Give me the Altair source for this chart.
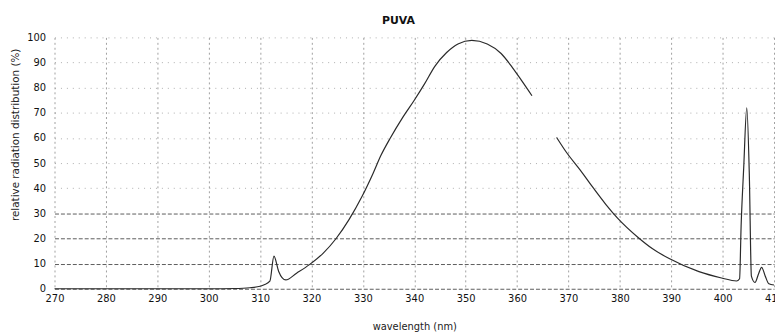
import altair as alt
import pandas as pd

# Spectrum (wavelength nm, relative %), two segments (gap in the scan)
seg1_wl = [270, 280, 290, 300, 305, 308, 310, 310.8, 311.9, 312.7, 313.6, 315, 317.1, 319.6,
           322.3, 324.8, 327.3, 329.8, 332, 333.5, 335.4, 337.7, 340, 342, 344, 346.3, 348.5,
           351.2, 354.2, 356.9, 359.1, 361, 362.9]
seg1_val = [0, 0, 0, 0, 0.1, 0.4, 1, 1.6, 3, 13, 7, 3.5, 6.2, 9.6,
            14.2, 20, 27.5, 36.6, 46, 53, 60.2, 68, 75, 81.5, 88.5, 94, 97.4,
            98.8, 97.4, 93.6, 88, 82.5, 76.8]

seg2_wl = [367.7, 369.6, 372.3, 374.8, 377.3, 379.6, 383.5, 386.3, 389.6, 395.4, 399.8, 402.7,
           403.3, 403.6, 404.1, 404.7, 405.2, 405.6, 406.3, 407, 407.6, 408.3, 409, 410]
seg2_val = [60.2, 54.3, 47.2, 40.2, 33.5, 28, 20.5, 16, 12, 6.8, 4.3, 3.1,
            4, 25, 48, 72, 45, 5, 2.5, 6, 8.5, 5, 2, 1.5]

x_ticks = list(range(270, 411, 10))
y_ticks = list(range(0, 101, 10))

df = pd.DataFrame({
    "wavelength": seg1_wl + seg2_wl,
    "value": seg1_val + seg2_val,
    "segment": ["a"] * len(seg1_wl) + ["b"] * len(seg2_wl),
})

FONT = "DejaVu Sans"

chart = alt.Chart(df).mark_line(color="#2a2a2a", strokeWidth=1.2, interpolate="monotone").encode(
    x=alt.X("wavelength:Q",
            scale=alt.Scale(domain=[270, 410], nice=False, zero=False),
            axis=alt.Axis(values=x_ticks, title="wavelength (nm)", domain=False, ticks=False,
                          tickSize=0, labelPadding=5, labelFontSize=10, labelFont=FONT,
                          labelColor="#111", labelFlush=False, labelOverlap=False,
                          titleFont=FONT, titleFontSize=10, titleFontWeight="normal",
                          titleColor="#222", titleY=33, titleBaseline="top",
                          grid=True, gridColor="#777", gridDash=[2, 3], gridWidth=1,
                          gridOpacity=0.7)),
    y=alt.Y("value:Q",
            scale=alt.Scale(domain=[0, 100], nice=False),
            axis=alt.Axis(values=y_ticks, title="relative radiation distribution (%)",
                          domain=False, ticks=False, tickSize=0, labelPadding=9,
                          labelFontSize=10, labelFont=FONT, labelColor="#111",
                          titleFont=FONT, titleFontSize=10.5, titleFontWeight="normal",
                          titleColor="#222", titleX=-39, titleY=98, titleBaseline="middle",
                          titleAlign="center",
                          grid=True,
                          gridColor={"condition": {"test": "datum.value <= 30", "value": "#333"},
                                     "value": "#999"},
                          gridDash={"condition": {"test": "datum.value <= 30", "value": [4, 2]},
                                    "value": [1, 5]},
                          gridWidth=1, gridOpacity=0.8)),
    detail="segment:N",
).properties(
    width=727,
    height=254,
    autosize=alt.AutoSizeParams(type="none"),
    padding={"left": 47, "top": 28, "right": 1, "bottom": 43},
    title=alt.TitleParams("PUVA", font=FONT, fontSize=11, fontWeight="bold", color="#111",
                          anchor="middle", dx=-16, offset=7),
).configure_view(stroke=None)

chart.save("out.html", embed_options={"renderer": "svg", "actions": False})
